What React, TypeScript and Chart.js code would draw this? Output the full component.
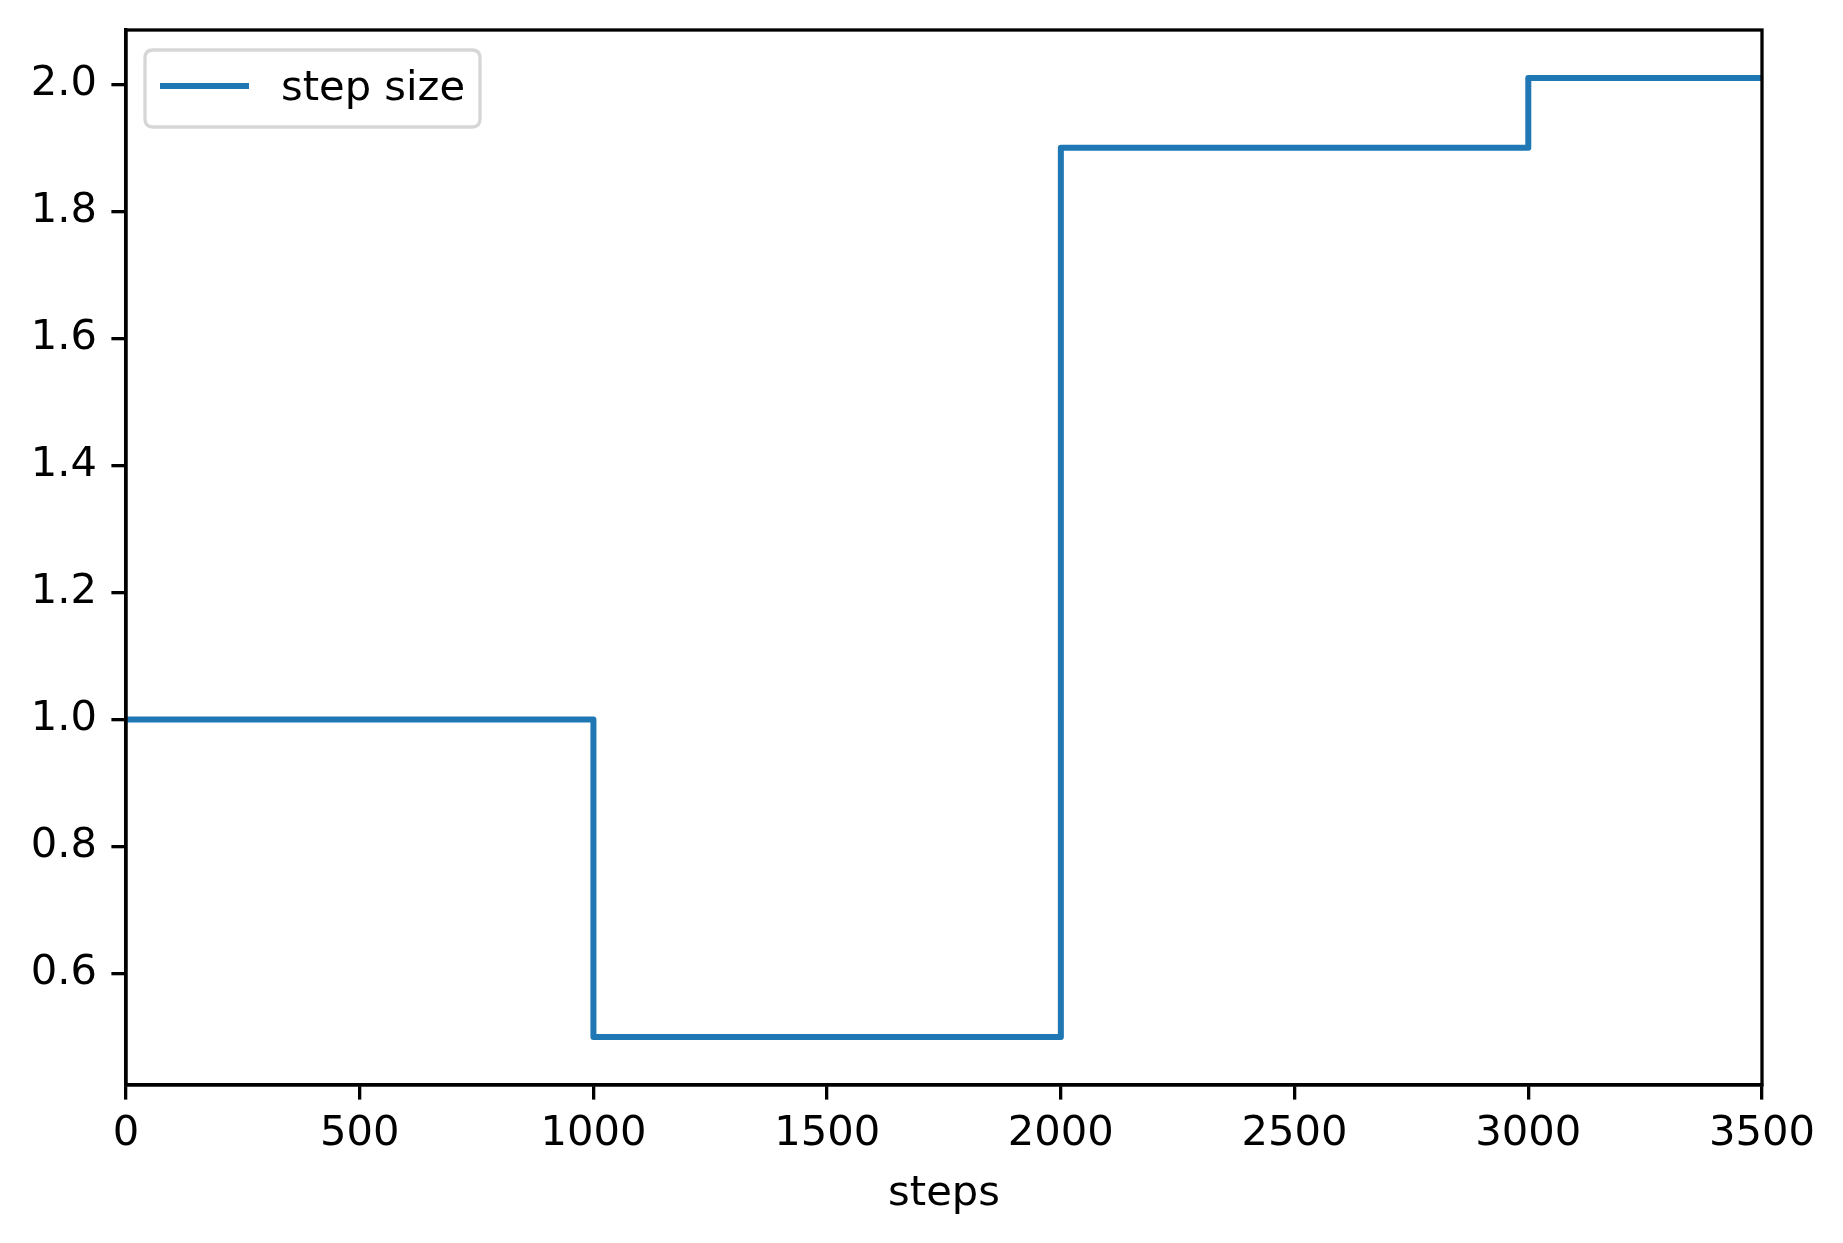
import React, { useEffect, useRef } from "react";
import { Chart, registerables } from "chart.js";

Chart.register(...registerables);

const steps = [0, 1000, 2000, 3000, 3500];
const stepSize = [1.0, 0.5, 1.9, 2.01, 2.01];
const xTicks = [0, 500, 1000, 1500, 2000, 2500, 3000, 3500];
const yTicks = [0.6, 0.8, 1.0, 1.2, 1.4, 1.6, 1.8, 2.0];
const seriesLabel = "step size";
const xTitle = "steps";

const FONT = "'DejaVu Sans', sans-serif";
const FS = 41.67;
const BLUE = "#1f77b4";

const framePlugin = {
  id: "frameAndLegend",
  afterDraw(chart: any) {
    const { ctx, chartArea } = chart;
    const { left, top, right, bottom } = chartArea;
    ctx.save();
    ctx.strokeStyle = "#000";
    ctx.lineWidth = 3.3;
    ctx.lineJoin = "miter";
    ctx.strokeRect(left, top, right - left, bottom - top);

    // legend
    const bx = left + 19;
    const by = top + 20;
    const bw = 335;
    const bh = 77;
    const r = 8;
    ctx.beginPath();
    ctx.moveTo(bx + r, by);
    ctx.lineTo(bx + bw - r, by);
    ctx.quadraticCurveTo(bx + bw, by, bx + bw, by + r);
    ctx.lineTo(bx + bw, by + bh - r);
    ctx.quadraticCurveTo(bx + bw, by + bh, bx + bw - r, by + bh);
    ctx.lineTo(bx + r, by + bh);
    ctx.quadraticCurveTo(bx, by + bh, bx, by + bh - r);
    ctx.lineTo(bx, by + r);
    ctx.quadraticCurveTo(bx, by, bx + r, by);
    ctx.closePath();
    ctx.fillStyle = "rgba(255,255,255,0.8)";
    ctx.fill();
    ctx.strokeStyle = "#d6d6d6";
    ctx.lineWidth = 3.3;
    ctx.stroke();

    const ds = chart.data.datasets[0];
    ctx.beginPath();
    ctx.strokeStyle = ds.borderColor;
    ctx.lineWidth = 6;
    ctx.lineCap = "butt";
    ctx.moveTo(bx + 15, by + 36);
    ctx.lineTo(bx + 104, by + 36);
    ctx.stroke();

    ctx.fillStyle = "#000";
    ctx.font = `${FS}px ${FONT}`;
    ctx.textBaseline = "alphabetic";
    ctx.textAlign = "left";
    ctx.fillText(ds.label, bx + 136, by + 50);
    ctx.restore();
  },
};

export default function App() {
  const ref = useRef<HTMLCanvasElement | null>(null);

  useEffect(() => {
    if (!ref.current) return;
    const chart = new Chart(ref.current, {
      type: "line",
      data: {
        datasets: [
          {
            label: seriesLabel,
            data: steps.map((s, i) => ({ x: s, y: stepSize[i] })),
            borderColor: BLUE,
            backgroundColor: BLUE,
            borderWidth: 6,
            stepped: true,
            pointRadius: 0,
            pointHoverRadius: 0,
            fill: false,
            borderJoinStyle: "round",
          },
        ],
      },
      options: {
        animation: false,
        responsive: false,
        devicePixelRatio: 1,
        events: [],
        layout: { padding: { left: 0, top: 30, right: 81, bottom: 0 } },
        plugins: {
          legend: { display: false },
          tooltip: { enabled: false },
          title: { display: false },
        },
        scales: {
          x: {
            type: "linear",
            min: 0,
            max: 3500,
            afterBuildTicks: (scale: any) => {
              scale.ticks = xTicks.map((v) => ({ value: v }));
            },
            afterFit: (scale: any) => {
              scale.height = 158;
              scale.paddingLeft = 0;
              scale.paddingRight = 0;
            },
            ticks: {
              font: { family: FONT, size: FS },
              color: "#000",
              padding: 10,
              maxRotation: 0,
              autoSkip: false,
              callback: (v: any) => String(v),
            },
            grid: {
              drawOnChartArea: false,
              drawTicks: true,
              tickLength: 14.6,
              lineWidth: 3.3,
              color: "#000",
              tickColor: "#000",
            },
            border: { display: true, color: "#000", width: 3.3 },
            title: {
              display: true,
              text: xTitle,
              font: { family: FONT, size: FS },
              color: "#000",
              padding: { top: 0, bottom: 24 },
            },
          },
          y: {
            type: "linear",
            min: 0.4245,
            max: 2.0855,
            afterBuildTicks: (scale: any) => {
              scale.ticks = yTicks.map((v) => ({ value: v }));
            },
            afterFit: (scale: any) => {
              scale.width = 126;
              scale.paddingTop = 0;
              scale.paddingBottom = 0;
            },
            ticks: {
              font: { family: FONT, size: FS },
              color: "#000",
              padding: 14.5,
              autoSkip: false,
              callback: (v: any) => Number(v).toFixed(1),
            },
            grid: {
              drawOnChartArea: false,
              drawTicks: true,
              tickLength: 14.6,
              lineWidth: 3.3,
              color: "#000",
              tickColor: "#000",
            },
            border: { display: true, color: "#000", width: 3.3 },
          },
        },
      },
      plugins: [framePlugin],
    } as any);
    return () => chart.destroy();
  }, []);

  return (
    <div style={{ position: "absolute", left: 0, top: 0, width: 1843, height: 1243, background: "#fff" }}>
      <canvas ref={ref} width={1843} height={1243} style={{ display: "block", width: 1843, height: 1243 }} />
    </div>
  );
}
